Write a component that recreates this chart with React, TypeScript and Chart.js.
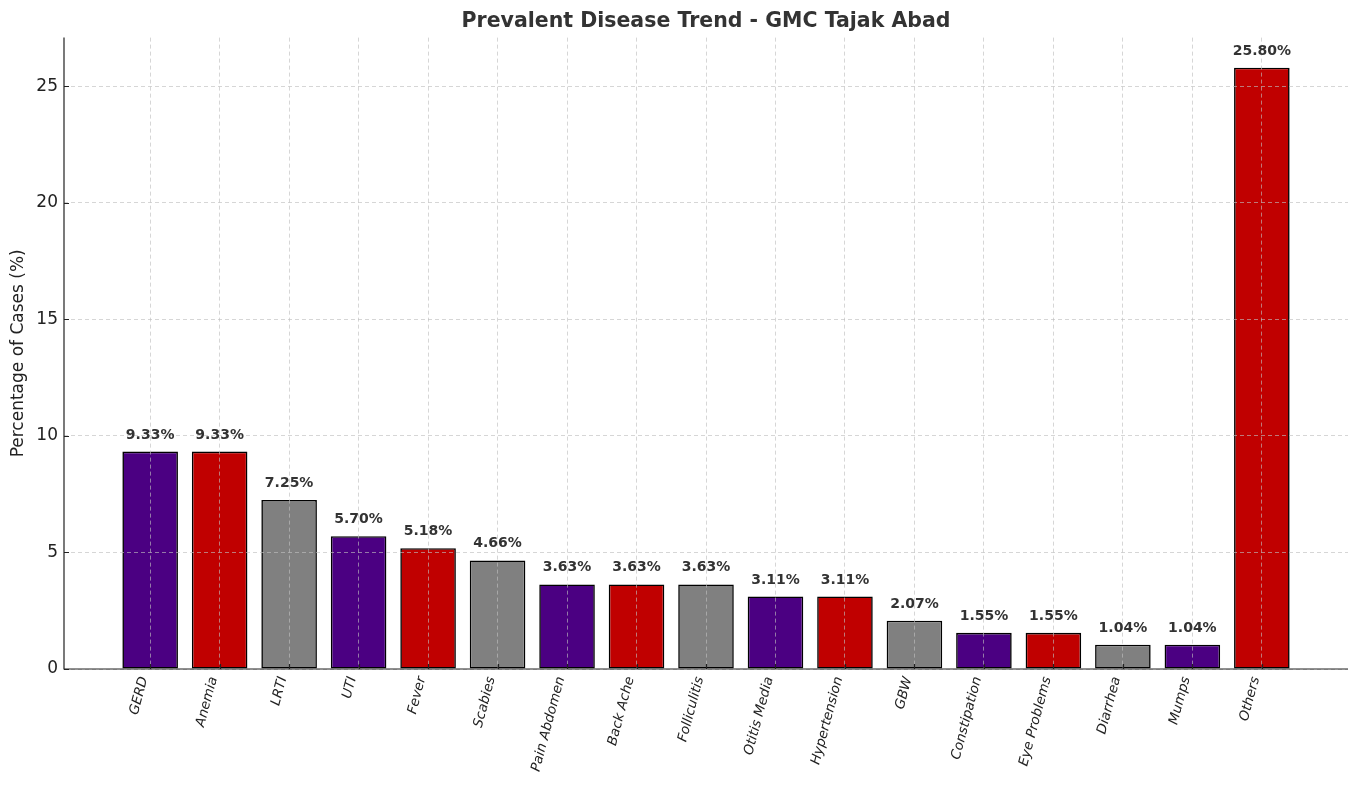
import React, { useEffect, useRef } from "react";
import { Chart, registerables } from "chart.js";

Chart.register(...registerables);

const categories = [
  "GERD", "Anemia", "LRTI", "UTI", "Fever", "Scabies", "Pain Abdomen", "Back Ache",
  "Folliculitis", "Otitis Media", "Hypertension", "GBW", "Constipation", "Eye Problems",
  "Diarrhea", "Mumps", "Others",
];
const percentages = [9.33, 9.33, 7.25, 5.70, 5.18, 4.66, 3.63, 3.63, 3.63, 3.11, 3.11, 2.07, 1.55, 1.55, 1.04, 1.04, 25.80];
const palette = ["#4B0082", "#C00000", "#808080"];
const yTicks = [0, 5, 10, 15, 20, 25];
const titleText = "Prevalent Disease Trend - GMC Tajak Abad";
const yTitle = "Percentage of Cases (%)";

const FONT = "'DejaVu Sans', sans-serif";

const overlay = {
  id: "overlay",
  afterDraw(chart: any) {
    const ctx = chart.ctx;
    const xs = chart.scales.x;
    const ys = chart.scales.y;
    const a = chart.chartArea;
    ctx.save();
    ctx.font = `bold 14px ${FONT}`;
    ctx.fillStyle = "#333333";
    ctx.textAlign = "center";
    ctx.textBaseline = "bottom";
    percentages.forEach((v, i) => {
      ctx.fillText(v.toFixed(2) + "%", xs.getPixelForValue(i), ys.getPixelForValue(v + 0.5) + 2);
    });
    ctx.strokeStyle = "#222222";
    ctx.lineWidth = 1.2;
    ctx.setLineDash([]);
    ctx.beginPath();
    xs.ticks.forEach((t: any) => {
      const px = Math.round(xs.getPixelForValue(t.value)) + 0.5;
      ctx.moveTo(px, a.bottom);
      ctx.lineTo(px, a.bottom - 5);
    });
    ys.ticks.forEach((t: any) => {
      const py = Math.round(ys.getPixelForValue(t.value)) + 0.5;
      ctx.moveTo(a.left, py);
      ctx.lineTo(a.left + 5, py);
    });
    ctx.moveTo(a.left, a.top);
    ctx.lineTo(a.left, a.bottom);
    ctx.lineTo(a.right, a.bottom);
    ctx.stroke();
    ctx.restore();
  },
};

export default function App() {
  const ref = useRef<HTMLCanvasElement>(null);
  useEffect(() => {
    document.body.style.margin = "0";
    const gridOpts = {
      color: "rgba(190,190,190,0.8)",
      drawTicks: false,
      lineWidth: 0.8,
      offset: false,
      z: 1,
    };
    const chart = new Chart(ref.current!, {
      type: "bar",
      data: {
        datasets: [
          {
            data: percentages.map((v, i) => ({ x: i, y: v })),
            backgroundColor: percentages.map((_, i) => palette[i % 3]),
            borderColor: "#000000",
            borderWidth: 1.6,
            borderSkipped: false,
            barPercentage: 0.8,
            categoryPercentage: 1,
          },
        ],
      },
      options: {
        animation: false,
        responsive: false,
        maintainAspectRatio: false,
        layout: { padding: { left: 0, right: 11, top: 0, bottom: 0 } },
        plugins: {
          legend: { display: false },
          tooltip: { enabled: false },
          title: {
            display: true,
            fullSize: false,
            text: titleText,
            color: "#333333",
            font: { family: FONT, size: 20.5, weight: "bold" },
            padding: { top: 9, bottom: 4 },
          },
        },
        scales: {
          x: {
            type: "linear",
            offset: false,
            min: -1.24,
            max: 17.24,
            afterBuildTicks(scale: any) {
              scale.ticks = categories.map((_, i) => ({ value: i }));
            },
            afterFit(scale: any) {
              scale.height = 120;
            },
            ticks: {
              autoSkip: false,
              maxRotation: 75,
              minRotation: 75,
              padding: 6,
              labelOffset: -6,
              color: "#222222",
              font: { family: FONT, size: 13.5, style: "italic" },
              callback: (v: any) => categories[v] ?? "",
            },
            grid: gridOpts,
            border: { display: false, dash: [4, 3] },
          },
          y: {
            min: 0,
            max: 27.09,
            afterBuildTicks(scale: any) {
              scale.ticks = yTicks.map((v) => ({ value: v }));
            },
            afterFit(scale: any) {
              scale.width = 64;
            },
            ticks: {
              color: "#222222",
              padding: 6,
              font: { family: FONT, size: 17 },
            },
            title: {
              display: true,
              text: yTitle,
              color: "#222222",
              font: { family: FONT, size: 17 },
              padding: { top: 8, bottom: 0 },
            },
            grid: gridOpts,
            border: { display: false, dash: [4, 3] },
          },
        },
      },
      plugins: [overlay],
    } as any);
    return () => chart.destroy();
  }, []);
  return (
    <div style={{ width: 1359, height: 789 }}>
      <canvas ref={ref} width={1359} height={789} style={{ width: 1359, height: 789 }} />
    </div>
  );
}
